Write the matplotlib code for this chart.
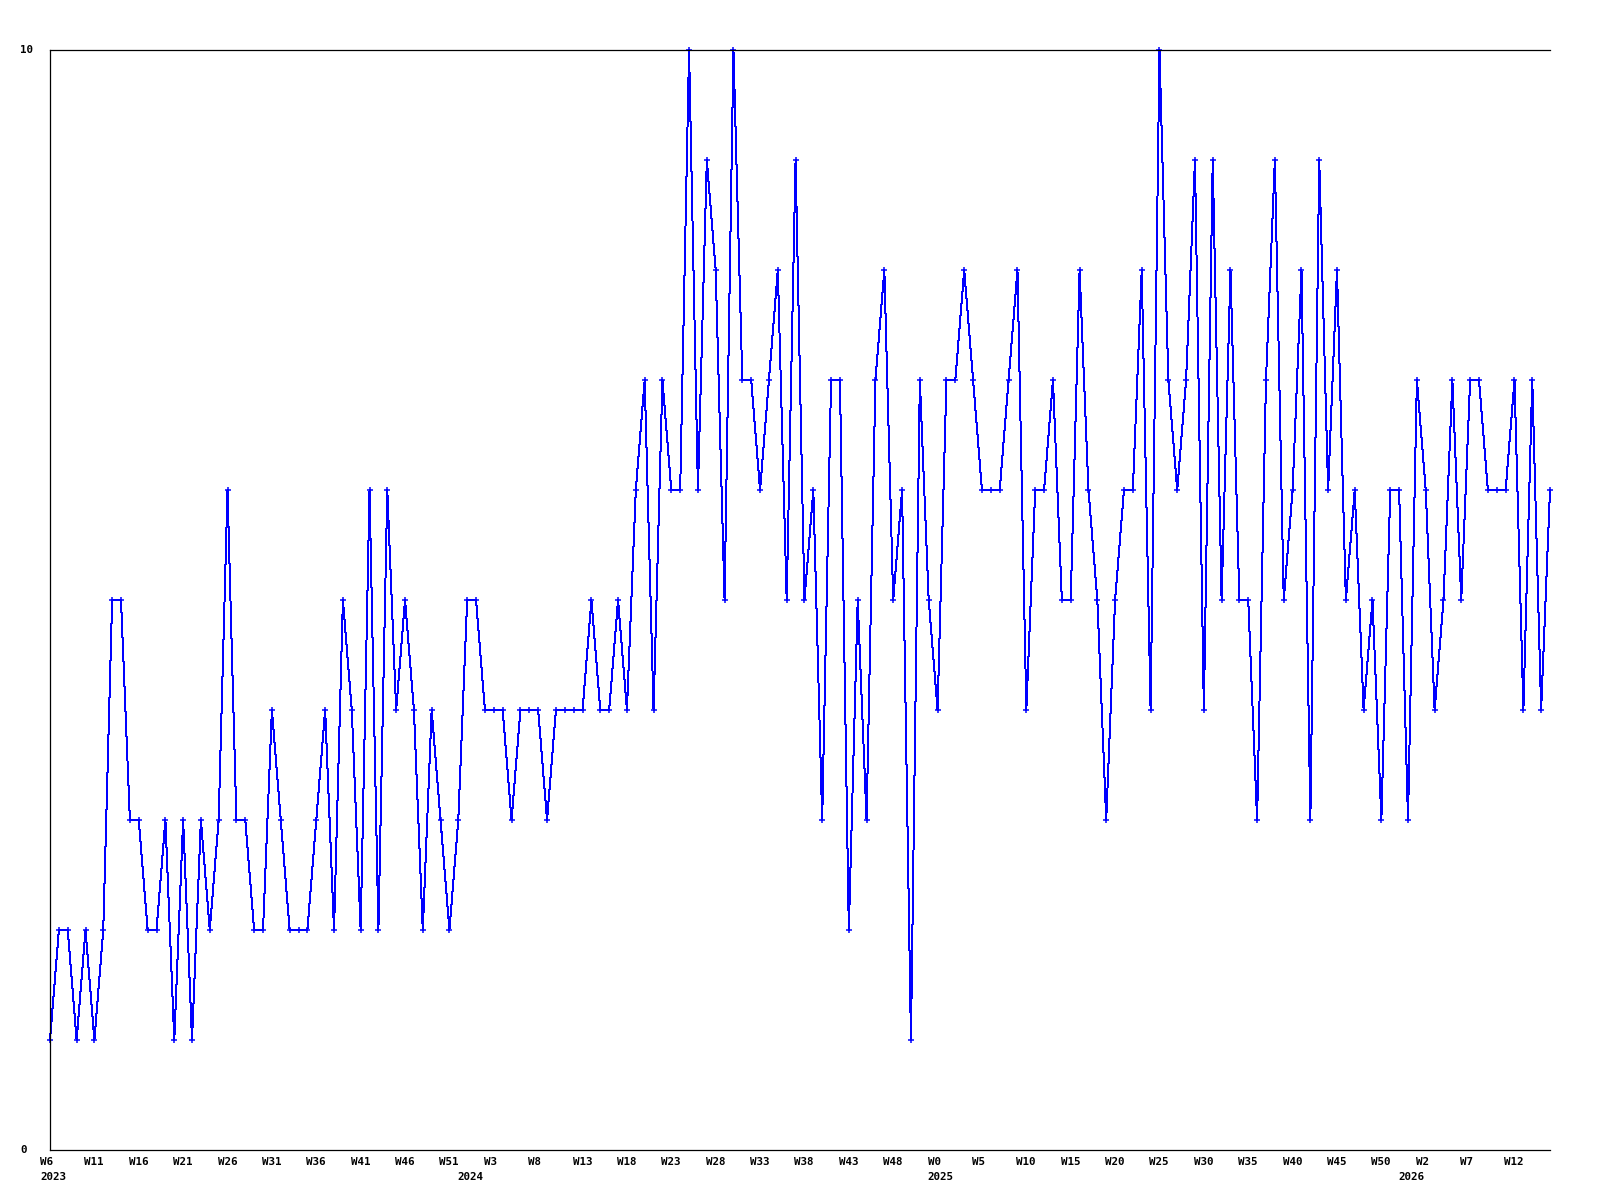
import matplotlib
matplotlib.use("Agg")
import matplotlib.pyplot as plt
import matplotlib.transforms as mtransforms
import numpy as np

# weekly values, first point is W6 2023
values = [
    1, 2, 2, 1, 2, 1, 2, 5, 5, 3, 3, 2, 2, 3, 1, 3, 1, 3, 2, 3, 6, 3, 3, 2, 2, 4, 3, 2, 2, 2, 3,
    4, 2, 5, 4, 2, 6, 2, 6, 4, 5, 4, 2, 4, 3, 2, 3, 5, 5, 4, 4, 4, 3, 4, 4, 4, 3, 4, 4, 4, 4, 5, 4, 4, 5, 4, 6,
    7, 4, 7, 6, 6, 10, 6, 9, 8, 5, 10, 7, 7, 6, 7, 8, 5, 9, 5, 6, 3, 7, 7, 2, 5, 3, 7, 8, 5, 6, 1, 7, 5, 4, 7,
    7, 8, 7, 6, 6, 6, 7, 8, 4, 6, 6, 7, 5, 5, 8, 6, 5, 3, 5, 6, 6, 8, 4, 10, 7, 6, 7, 9, 4, 9, 5, 8, 5, 5,
    3, 7, 9, 5, 6, 8, 3, 9, 6, 8, 5, 6, 4, 5, 3, 6, 6, 3, 7, 6, 4, 5, 7, 5, 7, 7, 6, 6, 6, 7, 4, 7, 4, 6,
]

week_labels = [
    "W6", "W11", "W16", "W21", "W26", "W31", "W36", "W41", "W46", "W51",
    "W3", "W8", "W13", "W18", "W23", "W28", "W33", "W38", "W43", "W48",
    "W0", "W5", "W10", "W15", "W20", "W25", "W30", "W35", "W40", "W45", "W50",
    "W2", "W7", "W12",
]
week_label_every = 5

year_labels = ["2023", "2024", "2025", "2026"]
year_start_index = [0, 47, 100, 153]

y_ticks = [0, 10]

FONT = dict(family="DejaVu Sans Mono", fontweight="bold", fontsize=7.8)

fig = plt.figure(figsize=(16, 12), dpi=100)
ax = fig.add_axes([50 / 1600, 1 - 1150 / 1200, 1500 / 1600, 1100 / 1200])

x = np.arange(len(values))
ax.plot(x, values, color="#0000ff", linewidth=0.72, marker="+", markersize=4,
        markeredgewidth=1.1, antialiased=False, clip_on=False)

ax.set_xlim(0, len(values) - 1)
ax.set_ylim(min(y_ticks), max(y_ticks))

for side in ("left", "bottom", "top"):
    ax.spines[side].set_color("black")
    ax.spines[side].set_linewidth(0.9)
ax.spines["right"].set_visible(False)
ax.set_xticks([])
ax.set_yticks([])

# y labels, left-aligned near the figure edge
ytrans = mtransforms.blended_transform_factory(fig.transFigure, ax.transData)
for v in y_ticks:
    ax.text(20 / 1600, v, str(v), transform=ytrans, ha="left", va="center",
            clip_on=False, **FONT)

# x labels, left edge 10 px before the point
xtrans = mtransforms.blended_transform_factory(ax.transData, fig.transFigure)
xtrans = mtransforms.offset_copy(xtrans, fig=fig, x=-10, units="dots")
for i, lab in enumerate(week_labels):
    ax.text(i * week_label_every, 1 - 1162 / 1200, lab, transform=xtrans,
            ha="left", va="center", clip_on=False, **FONT)
for idx, lab in zip(year_start_index, year_labels):
    ax.text(idx, 1 - 1177 / 1200, lab, transform=xtrans,
            ha="left", va="center", clip_on=False, **FONT)

fig.savefig("out.png", dpi=100, facecolor="white")
